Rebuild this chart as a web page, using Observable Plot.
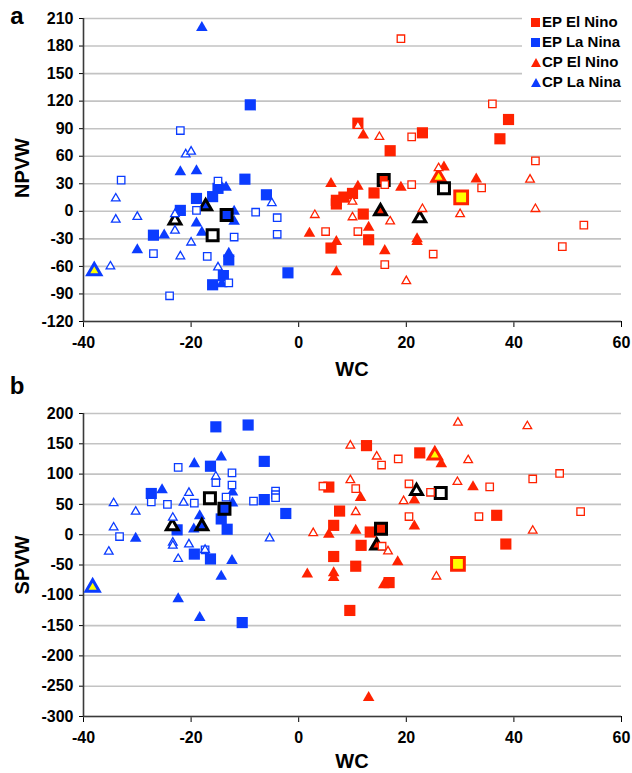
<!DOCTYPE html>
<html>
<head>
<meta charset="utf-8">
<script src="https://cdn.jsdelivr.net/npm/d3@7"></script>
<script src="https://cdn.jsdelivr.net/npm/@observablehq/plot@0.6"></script>
<style>
  html, body { margin: 0; padding: 0; background: #fff; }
  #wrap { position: relative; width: 632px; height: 773px; font-family: Arial, "Liberation Sans", sans-serif; font-weight: bold; color: #000; overflow: hidden; }
  #wrap svg { position: absolute; left: 0; }
  .lbl { position: absolute; white-space: nowrap; line-height: 1; }
  .rot { transform: translate(-50%, -50%) rotate(-90deg); }
  .ctr { transform: translate(-50%, -50%); }
  #legend { position: absolute; left: 522px; top: 6px; width: 110px; height: 90px; background: #fff; z-index: 5; }
  .row { position: absolute; left: 0; height: 20px; line-height: 20px; font-size: 15px; }
  .row span.t { position: absolute; left: 20px; top: 0; }
  .sq { position: absolute; left: 9px; top: 6px; width: 9px; height: 9px; }
  .tri { position: absolute; left: 9px; top: 6px; width: 0; height: 0; border-left: 5px solid transparent; border-right: 5px solid transparent; border-bottom: 9px solid; }
</style>
</head>
<body>
<div id="wrap"></div>
<script>
// ---------------- data ----------------
const xTicks = [-40, -20, 0, 20, 40, 60];
const yTicksA = [-120, -90, -60, -30, 0, 30, 60, 90, 120, 150, 180, 210];
const yTicksB = [-300, -250, -200, -150, -100, -50, 0, 50, 100, 150, 200];
const groups = ["EP El Nino", "EP La Nina", "CP El Nino", "CP La Nina"];

// Panel a (WC vs NPVW)
const aEPNinoFilled = [[11,96],[23,85.5],[17,66],[39,100],[37.4,79],[7,8],[7,12],[8.4,15.5],[10,19.5],[14,20],[12,-3],[13,-31],[6,-40]];
const aEPNinoOpen   = [[19,188],[36,117],[21,81],[44,55],[16,29],[21,29],[34,25.5],[5,-22],[11,-22],[25,-46.5],[16,-58],[53,-15],[49,-38.5]];
const aCPNinoFilled = [[12,83],[27,48],[6,30],[11,27],[19,26],[33,35],[13,-17.5],[2,-24],[22,-30],[22,-33],[7,-33],[16,-43],[7,-66]];
const aCPNinoOpen   = [[11,93],[15,81],[26,47],[10,10.5],[23,2.5],[30,-3],[3,-4],[10,-6.5],[17,-11],[20,-76],[43,34.5],[44,2.5]];
const aEPNinaFilled = [[-9,116],[-10,35],[-15,25],[-16,16],[-19,14],[-6,18],[-22,1],[-27,-26],[-13,-53],[-2,-67],[-14,-70],[-16,-80]];
const aEPNinaOpen   = [[-22,88],[-15,33],[-33,34],[-19,1],[-8,-1],[-4,-7],[-4,-25],[-12,-28],[-27,-46],[-17,-49],[-13,-78],[-24,-92]];
const aCPNinaFilled = [[-18,200],[-22,43],[-19,44],[-14.5,28],[-13.5,26],[-12,0],[-12,-11],[-19,-13],[-18,-23],[-25,-26],[-30,-42],[-13,-46],[-14.3,-79]];
const aCPNinaOpen   = [[-21,62],[-20,65],[-5,9],[-34,14],[-34,-9],[-30,-6],[-23,-3],[-23,-21],[-20,-34],[-22,-49],[-15,-61],[-35,-60]];
const aMeans = [[-13.4,-4,"EP La Nina","filled"],[-16,-26,"EP La Nina","open"],[-17.3,5.5,"CP La Nina","filled"],[-23,-10,"CP La Nina","open"],
                [15.8,34,"EP El Nino","filled"],[27,25,"EP El Nino","open"],[15.2,0,"CP El Nino","filled"],[22.5,-7.6,"CP El Nino","open"]];
const aHighlight = [[30.2,15.3,"EP El Nino"],[26,37,"CP El Nino"],[-38,-65,"CP La Nina"]];

// Panel b (WC vs SPVW)
const bEPNinoFilled = [[12.6,147],[22.5,135],[5.6,78.6],[7.6,39],[6.5,15.4],[13.3,4.4],[11.6,-17.6],[6.5,-36],[10.6,-52],[16.8,-79],[9.5,-125],[36.8,32],[38.5,-15.4]];
const bEPNinoOpen   = [[15.4,115],[18.5,125],[4.5,80],[10.6,76],[20.5,84],[24.5,70],[20.5,30],[15.5,-19],[35.5,79],[43.5,92],[48.5,101],[33.5,30],[52.4,38]];
const bCPNinoFilled = [[26.5,117],[11.5,61],[21.5,57],[21.5,14],[5.6,0.5],[10.6,7],[18.4,-45],[1.6,-65],[6.5,-63],[6.5,-71],[15.8,-83],[13,-269],[32.4,79]];
const bCPNinoOpen   = [[9.6,147],[14.5,129],[29.5,87],[9.6,90],[19.5,55.5],[10.6,37.4],[2.7,2.7],[16.6,-27.5],[25.6,-69],[29.6,185],[42.5,179],[31.5,123],[43.5,6.6]];
const bEPNinaFilled = [[-15.4,178],[-9.4,181],[-16.4,113],[-6.4,121],[-27.4,68],[-6.4,58],[-2.4,35],[-14.4,26],[-13.3,9],[-22.6,8],[-19.4,-32],[-16.4,-40],[-10.5,-145]];
const bEPNinaOpen   = [[-22.4,111],[-15.4,86],[-12.4,102],[-12.4,82],[-27.4,54],[-19.4,52],[-24.4,50],[-13.5,62],[-8.4,55.5],[-4.3,72],[-4.3,66],[-4.3,61],[-33.3,-3],[-17.4,-25]];
const bCPNinaFilled = [[-14.4,128],[-19.4,117],[-25.4,74],[-12.3,70],[-12.3,52],[-18.4,31],[-19.5,9],[-30.3,-6],[-12.4,-43],[-14.4,-69],[-22.4,-106],[-18.4,-137]];
const bCPNinaOpen   = [[-15.4,96],[-20.4,69],[-21.4,53],[-34.4,52],[-30.3,38],[-23.4,28],[-34.4,12],[-5.4,-6],[-23.4,-13],[-23.4,-18],[-20.4,-16],[-17.4,-25],[-35.3,-28],[-22.4,-40]];
const bMeans = [[-13.8,43,"EP La Nina","filled"],[-16.5,60,"EP La Nina","open"],[-18,14,"CP La Nina","filled"],[-23.5,14,"CP La Nina","open"],
                [15.3,10,"EP El Nino","filled"],[26.4,69,"EP El Nino","open"],[14.5,-18,"CP El Nino","filled"],[21.9,72,"CP El Nino","open"]];
const bHighlight = [[29.6,-48,"EP El Nino"],[25.3,131,"CP El Nino"],[-38.3,-87,"CP La Nina"]];

// ---------------- styles ----------------
const RED = "#ff2200", BLUE = "#0b3cff";
const colorOf = g => g.includes("El Nino") ? RED : BLUE;
const shapeOf = g => g.startsWith("EP") ? "square" : "triangle";
const fmt = d => String(d);

function panelMarks(sets, means, highlight, yMin) {
  const [epNinoF, epNinoO, cpNinoF, cpNinoO, epNinaF, epNinaO, cpNinaF, cpNinaO] = sets;
  const X = d => d[0], Y = d => d[1];
  const filledSq = (data, c) => Plot.dot(data, {x: X, y: Y, symbol: "square", r: 6.3, fill: c, stroke: "none"});
  const filledTri = (data, c) => Plot.dot(data, {x: X, y: Y, symbol: "triangle", r: 4.3, fill: c, stroke: "none"});
  const openSq = (data, c) => Plot.dot(data, {x: X, y: Y, symbol: "square", r: 4.2, fill: "white", stroke: c, strokeWidth: 1.3});
  const openTri = (data, c) => Plot.dot(data, {x: X, y: Y, symbol: "triangle", r: 3.2, fill: "white", stroke: c, strokeWidth: 1.3});
  const meanFill = d => d[3] === "filled" ? colorOf(d[2]) : "white";
  const meanSq = means.filter(d => shapeOf(d[2]) === "square");
  const meanTri = means.filter(d => shapeOf(d[2]) === "triangle");
  const hiSq = highlight.filter(d => shapeOf(d[2]) === "square");
  const hiTri = highlight.filter(d => shapeOf(d[2]) === "triangle");
  return [
    Plot.ruleX([-40], {stroke: "#3a3a3a", strokeWidth: 1.6}),
    filledSq(epNinaF, BLUE), filledSq(epNinoF, RED),
    filledTri(cpNinaF, BLUE), filledTri(cpNinoF, RED),
    Plot.dot(hiSq, {x: X, y: Y, symbol: "square", r: 7.2, fill: "#ffff00", stroke: d => colorOf(d[2]), strokeWidth: 3}),
    Plot.dot(hiTri, {x: X, y: Y, symbol: "triangle", r: 4.9, fill: "#ffff00", stroke: d => colorOf(d[2]), strokeWidth: 3}),
    Plot.dot(meanSq, {x: X, y: Y, symbol: "square", r: 6.2, fill: meanFill, stroke: "black", strokeWidth: 3}),
    Plot.dot(meanTri, {x: X, y: Y, symbol: "triangle", r: 4.4, fill: meanFill, stroke: "black", strokeWidth: 3}),
    openSq(epNinaO, BLUE), openSq(epNinoO, RED),
    openTri(cpNinaO, BLUE), openTri(cpNinoO, RED),
    Plot.ruleY([yMin], {stroke: "#3a3a3a", strokeWidth: 1.6})
  ];
}

function makePanel({height, marginTop, marginBottom, yDomain, yTicks, sets, means, highlight}) {
  return Plot.plot({
    width: 632, height, marginLeft: 83, marginRight: 11, marginTop, marginBottom,
    style: {fontFamily: "Arial, 'Liberation Sans', sans-serif", fontSize: "16px", fontWeight: "bold", color: "black", background: "transparent", overflow: "visible"},
    x: {domain: [-40, 60], ticks: xTicks, tickFormat: fmt, tickSize: 6, tickPadding: 9, label: null},
    y: {domain: yDomain, ticks: yTicks, tickFormat: fmt, tickSize: 4, tickPadding: 6, label: null},
    marks: [
      Plot.ruleY(yTicks, {stroke: "#c3c3c3", strokeWidth: 1.6}),
      ...panelMarks(sets, means, highlight, yDomain[0])
    ]
  });
}

const wrap = document.getElementById("wrap");

const svgA = makePanel({
  height: 370, marginTop: 18, marginBottom: 49, yDomain: [-120, 210], yTicks: yTicksA,
  sets: [aEPNinoFilled, aEPNinoOpen, aCPNinoFilled, aCPNinoOpen, aEPNinaFilled, aEPNinaOpen, aCPNinaFilled, aCPNinaOpen],
  means: aMeans, highlight: aHighlight
});
svgA.style.top = "0px";
wrap.appendChild(svgA);

const svgB = makePanel({
  height: 403, marginTop: 43, marginBottom: 57, yDomain: [-300, 200], yTicks: yTicksB,
  sets: [bEPNinoFilled, bEPNinoOpen, bCPNinoFilled, bCPNinoOpen, bEPNinaFilled, bEPNinaOpen, bCPNinaFilled, bCPNinaOpen],
  means: bMeans, highlight: bHighlight
});
svgB.style.top = "370px";
wrap.appendChild(svgB);

// titles / axis labels
function label(text, left, top, size, cls) {
  const d = document.createElement("div");
  d.className = "lbl " + cls;
  d.textContent = text;
  d.style.left = left + "px";
  d.style.top = top + "px";
  d.style.fontSize = size + "px";
  wrap.appendChild(d);
}
label("a", 17, 16, 24, "ctr");
label("b", 17, 386, 24, "ctr");
label("NPVW", 22, 168, 20, "rot");
label("SPVW", 22, 565, 20, "rot");
label("WC", 352, 369, 20, "ctr");
label("WC", 352, 761, 20, "ctr");

// legend
const legend = document.createElement("div");
legend.id = "legend";
groups.forEach((g, i) => {
  const row = document.createElement("div");
  row.className = "row";
  row.style.top = (6 + i * 20) + "px";
  row.style.width = "110px";
  const m = document.createElement("span");
  if (shapeOf(g) === "square") { m.className = "sq"; m.style.background = colorOf(g); }
  else { m.className = "tri"; m.style.borderBottomColor = colorOf(g); }
  const t = document.createElement("span");
  t.className = "t";
  t.textContent = g;
  row.appendChild(m); row.appendChild(t);
  legend.appendChild(row);
});
wrap.appendChild(legend);
</script>
</body>
</html>
